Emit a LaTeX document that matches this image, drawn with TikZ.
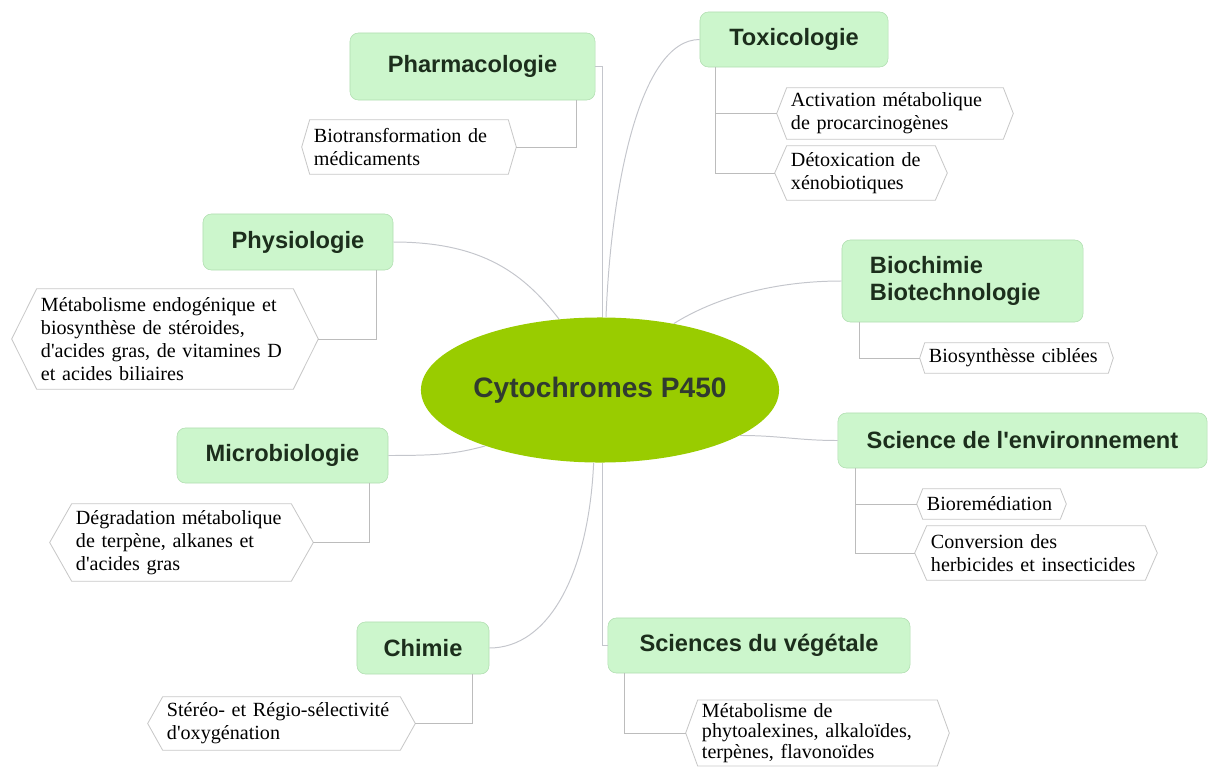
\documentclass[tikz,border=0pt]{standalone}
\usepackage{fontspec}
\setmainfont{Liberation Serif}
\setsansfont{Liberation Sans}
\usetikzlibrary{shapes.geometric}
\definecolor{boxgreen}{RGB}{204,246,204}
\definecolor{boxedge}{RGB}{176,222,176}
\definecolor{coregreen}{RGB}{153,204,0}
\definecolor{coreink}{RGB}{48,58,48}
\definecolor{inkgreen}{RGB}{28,46,28}
\definecolor{wiregray}{RGB}{196,198,204}
\definecolor{twiggray}{RGB}{188,188,188}
\definecolor{leafedge}{RGB}{200,200,200}
\begin{document}
\begin{tikzpicture}
  [x=0.025cm,y=-0.025cm,
   topic/.style={rectangle,rounded corners=6pt,draw=boxedge,fill=boxgreen,text=inkgreen,
     inner sep=0pt,font=\sffamily\bfseries\fontsize{16.8}{19.2}\selectfont},
   leaf/.style={rectangle,inner xsep=0.1cm,inner ysep=2pt,align=left,
     font=\fontsize{14.3}{16.5}\selectfont},
   wire/.style={draw=wiregray,line width=0.7pt},
   twig/.style={draw=twiggray,line width=0.7pt}]
  \useasboundingbox (0,0) rectangle (1211,769);

  % centre
  \node (c) [ellipse,fill=coregreen,minimum width=8.25cm,minimum height=3.625cm,inner sep=0pt,
    text=coreink,font=\sffamily\bfseries\fontsize{20}{24}\selectfont] at (600,390) {Cytochromes P450};

  % domains
  \node (g1) [topic,minimum width=6.125cm,minimum height=1.675cm] at (472.5,66.5) {Pharmacologie};
  \node (g2) [topic,minimum width=4.7cm,minimum height=1.375cm] at (794,39.5) {Toxicologie};
  \node (g3) [topic,minimum width=4.75cm,minimum height=1.4cm] at (298,242) {Physiologie};
  \node (g4) [topic,minimum height=2.05cm,text width=4.625cm,inner xsep=0.7cm,align=left] at (962.5,281) {Biochimie\\Biotechnologie};
  \node (g5) [topic,minimum width=9.225cm,minimum height=1.375cm] at (1022.5,440.5) {Science de l\textquotesingle environnement};
  \node (g6) [topic,minimum width=5.275cm,minimum height=1.375cm] at (282.5,455.5) {Microbiologie};
  \node (g7) [topic,minimum width=3.3cm,minimum height=1.3cm] at (423,648) {Chimie};
  \node (g8) [topic,minimum width=7.55cm,minimum height=1.375cm] at (759,645.5) {Sciences du végétale};

  % applications
  \node (l1) [leaf,text width=4.75cm,minimum height=1.35cm] at (409,147) {Biotransformation de\\médicaments};
  \node (l2) [leaf,text width=5.2cm,minimum height=1.275cm] at (895,113.5) {Activation métabolique\\de procarcinogènes};
  \node (l3) [leaf,text width=3.5cm,minimum height=1.35cm] at (861,173) {Détoxication de\\xénobiotiques};
  \node (l4) [leaf,text width=6.2cm,minimum height=2.5cm] at (165,339) {Métabolisme endogénique et\\biosynthèse de stéroides,\\d\textquotesingle acides gras, de vitamines D\\et acides biliaires};
  \node (l5) [leaf,text width=4.375cm,minimum height=0.75cm] at (1016.5,358) {Biosynthèsse ciblées};
  \node (l6) [leaf,text width=3.225cm,minimum height=0.75cm] at (991.5,504) {Bioremédiation};
  \node (l7) [leaf,text width=5.25cm,minimum height=1.35cm] at (1036,553) {Conversion des\\herbicides et insecticides};
  \node (l8) [leaf,text width=5.275cm,minimum height=1.925cm] at (181.5,542.5) {Dégradation métabolique\\de terpène, alkanes et\\d\textquotesingle acides gras};
  \node (l9) [leaf,text width=5.725cm,minimum height=1.325cm] at (281.5,723.5) {Stéréo- et Régio-sélectivité\\d\textquotesingle oxygénation};
  \node (l10) [leaf,text width=5.775cm,minimum height=1.4cm,font=\fontsize{14.3}{14.8}\selectfont] at (817.5,733) {Métabolisme de\\phytoalexines, alkaloïdes,\\terpènes, flavonoïdes};

  \foreach \n/\d in {l1/0.2,l2/0.25,l3/0.3,l4/0.625,l5/0.125,l6/0.15,l7/0.3,l8/0.55,l9/0.375,l10/0.3}
    \draw[leafedge,line width=0.6pt] (\n.north west) -- (\n.north east) -- ([xshift=\d cm]\n.east)
      -- (\n.south east) -- (\n.south west) -- ([xshift=-\d cm]\n.west) -- cycle;

  % centre to domains
  \draw[wire] (g1.east) -| ([xshift=0.05cm]c.north);
  \draw[wire] ([xshift=0.15cm]c.north) .. controls +(5,-130) and +(-60,0) .. (g2.west);
  \draw[wire] (g3.east) .. controls +(90,0) and +(-35,-45) .. (c.120);
  \draw[wire] (c.42) .. controls +(40,-25) and +(-70,0) .. (g4.west);
  \draw[wire] (c.-18) .. controls +(40,0) and +(-40,0) .. (g5.west);
  \draw[wire] (g6.east) .. controls +(50,0) and +(-30,8) .. (c.206);
  \draw[wire] (c.265) .. controls +(-5,110) and +(60,0) .. (g7.east);
  \draw[wire] (g8.west) -| ([xshift=0.05cm]c.south);

  % domains to applications
  \foreach \g/\gx/\l/\a/\lx in {g1/5.675/l1/east/0.2,g2/0.4/l2/west/-0.25,g2/0.4/l3/west/-0.3,
      g3/4.35/l4/east/0.625,g4/0.45/l5/west/-0.125,g5/0.45/l6/west/-0.15,g5/0.45/l7/west/-0.3,
      g6/4.825/l8/east/0.55,g7/2.9/l9/east/0.375,g8/0.425/l10/west/-0.3}
    \draw[twig] ([xshift=\gx cm]\g.south west) |- ([xshift=\lx cm]\l.\a);

\end{tikzpicture}
\end{document}
